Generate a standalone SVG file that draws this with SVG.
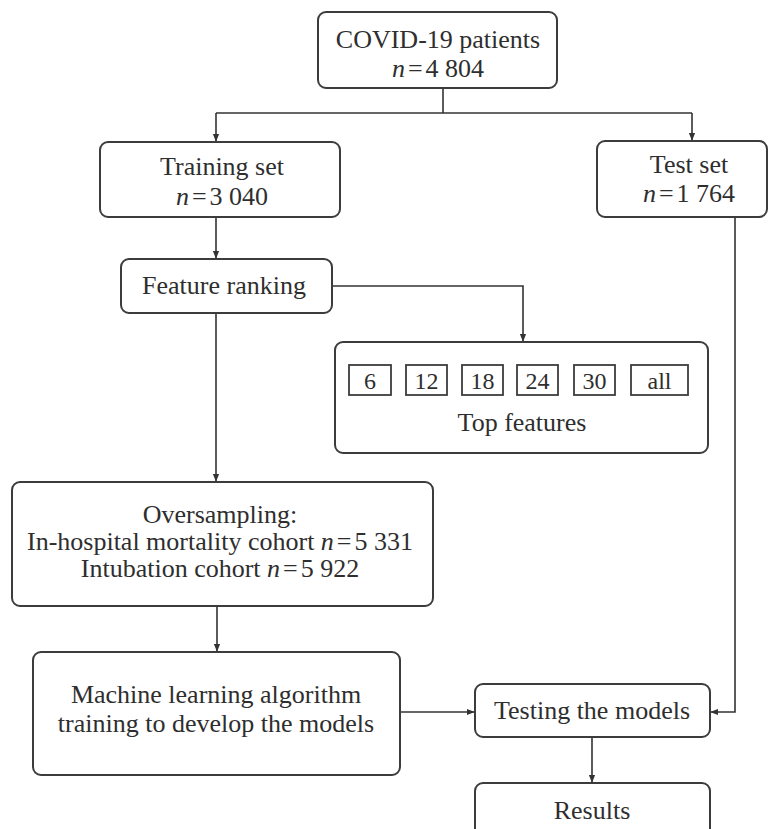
<svg xmlns="http://www.w3.org/2000/svg" width="771" height="829" viewBox="0 0 771 829">
<style>
.box{fill:#fff;stroke:#3c3c3c;stroke-width:2}
.sq{fill:#fff;stroke:#3c3c3c;stroke-width:1.8}
.t{font-family:"Liberation Serif","Times New Roman",serif;font-size:26px;fill:#2e2e2e;text-anchor:middle}
.s{font-size:24px}
.i{font-style:italic}
.c{fill:none;stroke:#333;stroke-width:1.6}
</style>
<defs>
<marker id="ah" viewBox="0 0 10 10" refX="9" refY="5" markerWidth="8" markerHeight="8" markerUnits="userSpaceOnUse" orient="auto">
<path d="M0,1 L10,5 L0,9 z" fill="#333"/>
</marker>
</defs>
<rect width="771" height="829" fill="#fff"/>
<g id="connectors">
<path class="c" d="M443,88 V113"/>
<path class="c" d="M216,113 H692"/>
<path class="c" d="M216,113 V141" marker-end="url(#ah)"/>
<path class="c" d="M692,113 V140" marker-end="url(#ah)"/>
<path class="c" d="M216,217 V258" marker-end="url(#ah)"/>
<path class="c" d="M332,286 H523 V341" marker-end="url(#ah)"/>
<path class="c" d="M216,313 V481" marker-end="url(#ah)"/>
<path class="c" d="M217,606 V651" marker-end="url(#ah)"/>
<path class="c" d="M400,712 H474" marker-end="url(#ah)"/>
<path class="c" d="M735,217 V712 H711" marker-end="url(#ah)"/>
<path class="c" d="M592,737 V782" marker-end="url(#ah)"/>
</g>
<g id="covid">
<rect class="box" x="318" y="12" width="239" height="76" rx="8"/>
<text class="t" x="438" y="48">COVID-19 patients</text>
<text class="t" x="438" y="77"><tspan class="i">n</tspan><tspan dx="3">=</tspan><tspan dx="3">4 804</tspan></text>
</g>
<g id="training">
<rect class="box" x="100" y="142" width="240" height="75" rx="8"/>
<text class="t" x="222" y="175">Training set</text>
<text class="t" x="222" y="205"><tspan class="i">n</tspan><tspan dx="3">=</tspan><tspan dx="3">3 040</tspan></text>
</g>
<g id="test">
<rect class="box" x="597" y="141" width="170" height="76" rx="8"/>
<text class="t" x="689" y="173">Test set</text>
<text class="t" x="689" y="202"><tspan class="i">n</tspan><tspan dx="3">=</tspan><tspan dx="3">1 764</tspan></text>
</g>
<g id="feature-ranking">
<rect class="box" x="121" y="259" width="211" height="54" rx="8"/>
<text class="t" x="224" y="294">Feature ranking</text>
</g>
<g id="top-features">
<rect class="box" x="335" y="342" width="373" height="111" rx="8"/>
<rect class="sq" x="349" y="365" width="42" height="30"/>
<rect class="sq" x="406" y="365" width="41" height="30"/>
<rect class="sq" x="462" y="365" width="41" height="30"/>
<rect class="sq" x="517" y="365" width="41" height="30"/>
<rect class="sq" x="574" y="365" width="41" height="30"/>
<rect class="sq" x="631" y="365" width="57" height="30"/>
<text class="t s" x="370" y="389">6</text>
<text class="t s" x="426.5" y="389">12</text>
<text class="t s" x="482.5" y="389">18</text>
<text class="t s" x="537.5" y="389">24</text>
<text class="t s" x="594.5" y="389">30</text>
<text class="t s" x="659.5" y="389">all</text>
<text class="t" x="522" y="431">Top features</text>
</g>
<g id="oversampling">
<rect class="box" x="12" y="482" width="421" height="124" rx="8"/>
<text class="t" x="220" y="523">Oversampling:</text>
<text class="t" x="220" y="550">In-hospital mortality cohort <tspan class="i">n</tspan><tspan dx="3">=</tspan><tspan dx="3">5 331</tspan></text>
<text class="t" x="220" y="577">Intubation cohort <tspan class="i">n</tspan><tspan dx="3">=</tspan><tspan dx="3">5 922</tspan></text>
</g>
<g id="ml-training">
<rect class="box" x="33" y="652" width="367" height="123" rx="8"/>
<text class="t" x="216" y="703">Machine learning algorithm</text>
<text class="t" x="216" y="732">training to develop the models</text>
</g>
<g id="testing">
<rect class="box" x="475" y="684" width="235" height="53" rx="8"/>
<text class="t" x="592" y="719">Testing the models</text>
</g>
<g id="results">
<rect class="box" x="475" y="783" width="235" height="60" rx="8"/>
<text class="t" x="592" y="819">Results</text>
</g>
</svg>
